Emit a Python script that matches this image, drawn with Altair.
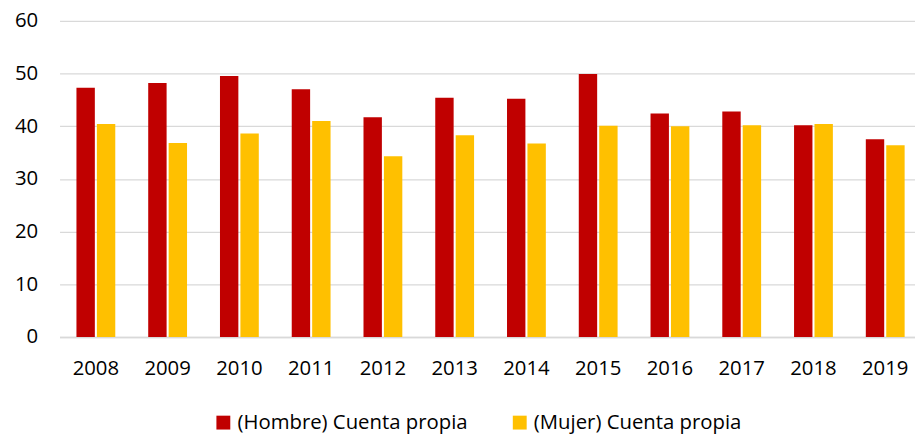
import altair as alt
import pandas as pd

years = ["2008", "2009", "2010", "2011", "2012", "2013", "2014", "2015", "2016", "2017", "2018", "2019"]
hombre = [47.3, 48.2, 49.5, 47.0, 41.7, 45.4, 45.2, 49.9, 42.4, 42.8, 40.2, 37.5]
mujer = [40.4, 36.8, 38.6, 41.0, 34.3, 38.3, 36.7, 40.1, 40.0, 40.2, 40.4, 36.4]
series = ["(Hombre) Cuenta propia", "(Mujer) Cuenta propia"]
colors = ["#C00000", "#FFC000"]

rows = []
for i, y in enumerate(years):
    rows.append({"year": y, "serie": series[0], "value": hombre[i]})
    rows.append({"year": y, "serie": series[1], "value": mujer[i]})
df = pd.DataFrame(rows)

FONT = "Open Sans"
FS = 20.5

chart = alt.Chart(df).mark_bar().encode(
    x=alt.X("year:N", sort=years, title=None,
            scale=alt.Scale(paddingInner=0.459, paddingOuter=0.19, align=0.62),
            axis=alt.Axis(labelAngle=0, ticks=False, labelPadding=22,
                          domainColor="#d9d9d9", domainWidth=1.3,
                          labelFont=FONT, labelFontSize=FS, labelColor="#000000")),
    xOffset=alt.XOffset("serie:N", sort=series, scale=alt.Scale(paddingInner=0.1)),
    y=alt.Y("value:Q", title=None,
            scale=alt.Scale(domain=[0, 60]),
            axis=alt.Axis(values=[0, 10, 20, 30, 40, 50, 60], domain=False, ticks=False,
                          labelPadding=22, gridColor="#d9d9d9", gridWidth=1.3,
                          labelFont=FONT, labelFontSize=FS, labelColor="#000000")),
    color=alt.Color("serie:N", sort=series,
                    scale=alt.Scale(domain=series, range=colors),
                    legend=alt.Legend(title=None, orient="none", direction="horizontal",
                                      legendX=155, legendY=395, padding=0,
                                      symbolType="square", symbolSize=196,
                                      symbolStrokeWidth=0, labelOffset=4,
                                      columnPadding=42, labelLimit=0,
                                      labelFont=FONT, labelFontSize=FS, labelColor="#000000")),
).properties(
    width=863, height=319,
    autosize=alt.AutoSizeParams(type="none"),
    padding={"left": 52, "top": 11, "right": 0, "bottom": 99},
).configure_view(stroke=None)

chart.save("out.html", embed_options={"renderer": "svg", "actions": False})
